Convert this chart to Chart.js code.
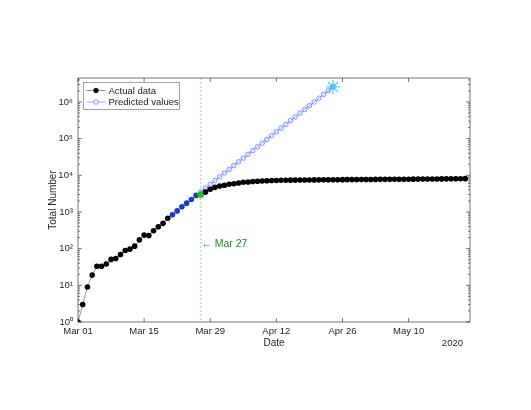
<!DOCTYPE html>
<html>
<head>
<meta charset="utf-8">
<script src="https://cdn.jsdelivr.net/npm/chart.js@4.4.0/dist/chart.umd.min.js"></script>
<style>
  html, body { margin: 0; padding: 0; background: #fff; }
  #wrap { width: 531px; height: 410px; }
</style>
</head>
<body>
<div id="wrap"><canvas id="casesChart" width="531" height="410"></canvas></div>
<script>
// axis ticks
const xTickDays = [0, 14, 28, 42, 56, 70];
const xTickLabels = ['Mar 01', 'Mar 15', 'Mar 29', 'Apr 12', 'Apr 26', 'May 10'];
const yTickValues = [1, 10, 100, 1000, 10000, 100000, 1000000];
const yTickLabels = ['10⁰', '10¹', '10²', '10³', '10⁴', '10⁵', '10⁶'];

// total cases, one value per day starting Mar 01
const actualCases = [
  1, 3, 9, 19, 33, 33, 38, 51, 54, 69,
  89, 97, 117, 174, 234, 229, 308, 396, 489, 672,
  840, 1070, 1380, 1740, 2190, 2830, 2990, 3480, 4170, 4700,
  5100, 5370, 5680, 5900, 6150, 6440, 6590, 6750, 6900, 7000,
  7100, 7200, 7250, 7300, 7350, 7380, 7400, 7420, 7440, 7470,
  7490, 7510, 7530, 7550, 7570, 7580, 7600, 7620, 7640, 7660,
  7680, 7700, 7710, 7730, 7750, 7760, 7780, 7790, 7810, 7820,
  7840, 7860, 7870, 7890, 7910, 7930, 7950, 7980, 8000, 8020,
  8050, 8070, 8100
];
const fitStartDay = 20;   // Mar 21, points used for the fit
const splitDay = 26;      // Mar 27

// predicted values, one per day starting Mar 27
const predictedCases = [
  3550, 4490, 5680, 7180, 9080, 11500, 14550, 18400, 23300, 29400,
  37200, 47100, 59600, 75300, 95300, 120500, 152800, 193200, 244300, 309000,
  390800, 494300, 625200, 790700, 1000000, 1265000, 1600000, 2020000, 2570000
];

const xMax = 83;
const yMax = 4.5e6;

const ctx = document.getElementById('casesChart').getContext('2d');
Chart.defaults.font.family = "'Liberation Sans', Arial, sans-serif";
Chart.defaults.color = '#262626';

const actualPoints = actualCases.map((v, i) => ({ x: i, y: v }));
const predictedPoints = predictedCases.map((v, i) => ({ x: splitDay + i, y: v }));
const lastPred = predictedPoints[predictedPoints.length - 1];

function pointColor(c) {
  const i = c.dataIndex;
  if (i === splitDay) return '#1fc21f';
  if (i >= fitStartDay && i < splitDay) return '#1f3cc4';
  return '#000000';
}

const decor = {
  id: 'decor',
  beforeDatasetsDraw(chart) {
    const { ctx, chartArea } = chart;
    const x = chart.scales.x.getPixelForValue(splitDay);
    ctx.save();
    ctx.strokeStyle = '#8fdc8f';
    ctx.lineWidth = 1;
    ctx.setLineDash([2, 2]);
    ctx.beginPath();
    ctx.moveTo(x, chartArea.top);
    ctx.lineTo(x, chartArea.bottom);
    ctx.stroke();
    ctx.restore();
  },
  afterDraw(chart) {
    const { ctx, chartArea } = chart;
    const { left, right, top, bottom } = chartArea;
    const xs = chart.scales.x, ys = chart.scales.y;
    ctx.save();
    // box
    ctx.strokeStyle = '#3a3a3a';
    ctx.lineWidth = 0.7;
    ctx.strokeRect(left, top, right - left, bottom - top);
    // inner ticks
    ctx.beginPath();
    xs.ticks.forEach(t => {
      const px = xs.getPixelForValue(t.value);
      ctx.moveTo(px, bottom); ctx.lineTo(px, bottom - 4);
      ctx.moveTo(px, top); ctx.lineTo(px, top + 4);
    });
    for (let e = 0; e <= 6; e++) {
      for (let m = 1; m <= 9; m++) {
        const v = m * Math.pow(10, e);
        if (v > yMax) break;
        const py = ys.getPixelForValue(v);
        const len = m === 1 ? 4 : 2;
        ctx.moveTo(left, py); ctx.lineTo(left + len, py);
        ctx.moveTo(right, py); ctx.lineTo(right - len, py);
      }
    }
    ctx.stroke();

    // axis titles and annotations
    ctx.fillStyle = '#262626';
    ctx.font = "10px 'Liberation Sans', Arial, sans-serif";
    ctx.textAlign = 'center';
    ctx.textBaseline = 'middle';
    ctx.fillText('Date', (left + right) / 2, 343);
    ctx.textAlign = 'right';
    ctx.font = "9.5px 'Liberation Sans', Arial, sans-serif";
    ctx.fillText('2020', right - 7, 343);
    ctx.save();
    ctx.translate(53, (top + bottom) / 2);
    ctx.rotate(-Math.PI / 2);
    ctx.textAlign = 'center';
    ctx.font = "10px 'Liberation Sans', Arial, sans-serif";
    ctx.fillText('Total Number', 0, 0);
    ctx.restore();

    ctx.fillStyle = '#1e8c1e';
    ctx.textAlign = 'left';
    ctx.font = "10.5px 'Liberation Sans', Arial, sans-serif";
    ctx.fillText('← Mar 27', xs.getPixelForValue(splitDay) + 0.5, 244);

    // legend
    const lx = 83.5, ly = 82.5, lw = 96, lh = 27;
    ctx.fillStyle = '#ffffff';
    ctx.fillRect(lx, ly, lw, lh);
    ctx.strokeStyle = '#8c8c8c';
    ctx.lineWidth = 0.8;
    ctx.strokeRect(lx, ly, lw, lh);
    const rows = [
      { y: ly + 8, label: chart.data.datasets[0].label, line: '#6b6b6b', fill: '#000000', stroke: '#000000' },
      { y: ly + 19.5, label: chart.data.datasets[1].label, line: '#7f96ff', fill: '#ffffff', stroke: '#5a78ff' }
    ];
    rows.forEach(r => {
      ctx.strokeStyle = r.line;
      ctx.lineWidth = 0.8;
      ctx.beginPath();
      ctx.moveTo(lx + 3, r.y); ctx.lineTo(lx + 22, r.y);
      ctx.stroke();
      ctx.beginPath();
      ctx.arc(lx + 12.5, r.y, 2.3, 0, Math.PI * 2);
      ctx.fillStyle = r.fill;
      ctx.fill();
      ctx.strokeStyle = r.stroke;
      ctx.stroke();
      ctx.fillStyle = '#1a1a1a';
      ctx.font = "9.5px 'Liberation Sans', Arial, sans-serif";
      ctx.textAlign = 'left';
      ctx.fillText(r.label, lx + 25, r.y + 0.5);
    });
    ctx.restore();
  }
};

new Chart(ctx, {
  type: 'line',
  data: {
    datasets: [
      {
        label: 'Actual data',
        data: actualPoints,
        borderColor: '#6b6b6b',
        borderWidth: 0.7,
        pointBackgroundColor: pointColor,
        pointBorderColor: pointColor,
        pointBorderWidth: 0,
        pointRadius: c => (c.dataIndex === splitDay ? 3.4 : 2.8),
        tension: 0
      },
      {
        label: 'Predicted values',
        data: predictedPoints,
        borderColor: '#7f96ff',
        borderWidth: 0.8,
        pointStyle: 'circle',
        pointBackgroundColor: 'rgba(255,255,255,0)',
        pointBorderColor: '#5a78ff',
        pointBorderWidth: 0.8,
        pointRadius: 2.3,
        tension: 0
      },
      {
        label: 'Peak',
        data: [lastPred],
        showLine: false,
        pointStyle: 'star',
        pointRadius: 7,
        pointBorderColor: '#33e0ff',
        pointBackgroundColor: '#33e0ff',
        pointBorderWidth: 1.2
      }
    ]
  },
  options: {
    responsive: false,
    animation: false,
    events: [],
    layout: { padding: { top: 78, right: 61, left: 0, bottom: 0 } },
    plugins: { legend: { display: false }, tooltip: { enabled: false } },
    scales: {
      x: {
        type: 'linear',
        min: 0,
        max: xMax,
        grid: { display: false, drawTicks: false },
        border: { display: false },
        afterBuildTicks: s => { s.ticks = xTickDays.map(v => ({ value: v })); },
        afterFit: s => { s.height = 88; },
        ticks: {
          autoSkip: false,
          maxRotation: 0,
          padding: 4,
          font: { size: 9.5 },
          callback: v => { const i = xTickDays.indexOf(v); return i >= 0 ? xTickLabels[i] : ''; }
        }
      },
      y: {
        type: 'logarithmic',
        min: 1,
        max: yMax,
        grid: { display: false, drawTicks: false },
        border: { display: false },
        afterBuildTicks: s => { s.ticks = yTickValues.map(v => ({ value: v, major: true })); },
        afterFit: s => { s.width = 78; },
        ticks: {
          autoSkip: false,
          padding: 5,
          font: { size: 9.5 },
          callback: v => { const i = yTickValues.indexOf(v); return i >= 0 ? yTickLabels[i] : ''; }
        }
      }
    }
  },
  plugins: [decor]
});
</script>
</body>
</html>
